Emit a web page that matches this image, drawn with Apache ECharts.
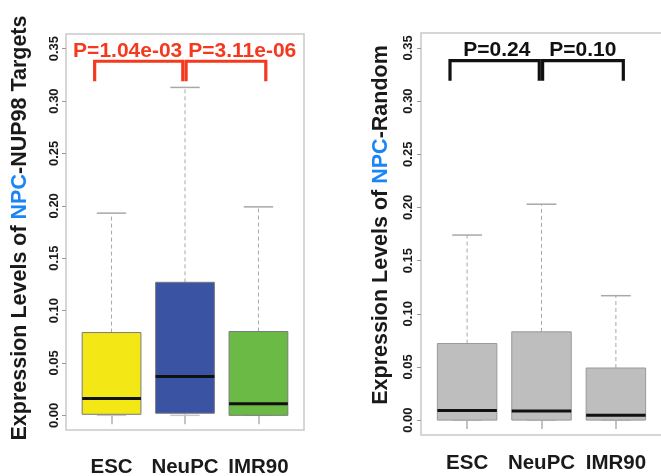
<!DOCTYPE html>
<html>
<head>
<meta charset="utf-8">
<script src="https://cdn.jsdelivr.net/npm/echarts@6/dist/echarts.min.js"></script>
<style>
  html, body { margin: 0; padding: 0; background: #fff; }
  #main { width: 661px; height: 476px; }
</style>
</head>
<body>
<div id="main"></div>
<script>
// categories and box statistics: [min, q1, median, q3, max]
var categories = ['ESC', 'NeuPC', 'IMR90'];
var targetsStats = [
    [0.000, 0.001, 0.016, 0.079, 0.193],
    [0.000, 0.002, 0.037, 0.127, 0.313],
    [0.000, 0.000, 0.011, 0.080, 0.199]
];
var randomStats = [
    [0.000, 0.000, 0.009, 0.072, 0.174],
    [0.000, 0.000, 0.0085, 0.083, 0.203],
    [0.000, 0.000, 0.0045, 0.049, 0.117]
];
var yTicks = [0, 0.05, 0.10, 0.15, 0.20, 0.25, 0.30, 0.35];
// comparisons (category positions) and their p-values
var comparisons = [[1, 2], [2, 3]];
var targetsP = ['P=1.04e-03', 'P=3.11e-06'];
var randomP = ['P=0.24', 'P=0.10'];

var targetColors = ['#f3e815', '#3a53a3', '#6bba45'];
var randomColor = '#bebebe';
var FONT = '"Liberation Sans", Arial, sans-serif';

var myChart = echarts.init(document.getElementById('main'));

function boxRender(colors, border) {
    return function (params, api) {
        var x = api.value(0);
        var lo = api.coord([x, api.value(1)]);
        var q1 = api.coord([x, api.value(2)]);
        var md = api.coord([x, api.value(3)]);
        var q3 = api.coord([x, api.value(4)]);
        var hi = api.coord([x, api.value(5)]);
        var w = api.size([0.8, 0])[0];
        var cx = lo[0];
        var gray = '#a8a8a8';
        return {
            type: 'group',
            children: [
                { type: 'line', shape: { x1: cx, y1: q3[1], x2: cx, y2: hi[1] },
                  style: { stroke: gray, lineWidth: 1, lineDash: [4, 3] } },
                { type: 'line', shape: { x1: cx, y1: lo[1], x2: cx, y2: q1[1] },
                  style: { stroke: gray, lineWidth: 1, lineDash: [4, 3] } },
                { type: 'line', shape: { x1: cx - w / 4, y1: hi[1], x2: cx + w / 4, y2: hi[1] },
                  style: { stroke: gray, lineWidth: 1.5 } },
                { type: 'line', shape: { x1: cx - w / 4, y1: lo[1], x2: cx + w / 4, y2: lo[1] },
                  style: { stroke: '#c8c8c8', lineWidth: 1.5 } },
                { type: 'rect', shape: { x: cx - w / 2, y: q3[1], width: w, height: Math.max(q1[1] - q3[1], 1) },
                  style: { fill: colors[params.dataIndex % colors.length], stroke: border, lineWidth: 1 } },
                { type: 'line', shape: { x1: cx - w / 2, y1: md[1], x2: cx + w / 2, y2: md[1] },
                  style: { stroke: '#111', lineWidth: 3 } }
            ]
        };
    };
}

function bracketRender(color) {
    return function (params, api) {
        var a = api.value(0), b = api.value(1);
        var first = params.dataIndex === 0;
        var x0 = first ? a - 0.23 : a + 0.015;
        var x1 = first ? b - 0.03 : b + 0.1;
        var p0 = api.coord([x0, 0.319]);
        var p1 = api.coord([x0, 0.338]);
        var p2 = api.coord([x1, 0.338]);
        var p3 = api.coord([x1, 0.319]);
        return {
            type: 'polyline',
            shape: { points: [p0, p1, p2, p3] },
            style: { stroke: color, lineWidth: 3.2, fill: null, lineJoin: 'miter' }
        };
    };
}

function labelRender(texts, xs, color) {
    return function (params, api) {
        var p = api.coord([xs[params.dataIndex], 0.348]);
        return {
            type: 'text',
            x: p[0], y: p[1],
            style: {
                text: texts[params.dataIndex], fill: color,
                font: 'bold 21px ' + FONT, align: 'center', verticalAlign: 'middle'
            }
        };
    };
}

function boxData(stats) {
    return stats.map(function (s, i) { return [i + 1].concat(s); });
}

function xAxisFor(idx, margin) {
    return {
        type: 'value', gridIndex: idx, min: 0.38, max: 3.62,
        axisLine: { show: false },
        splitLine: { show: false },
        axisTick: { show: true, length: 9, customValues: [1, 2, 3], lineStyle: { color: '#b0b0b0', width: 1.5 } },
        axisLabel: {
            customValues: [1, 2, 3], margin: margin,
            formatter: function (v) { return categories[Math.round(v) - 1] || ''; },
            fontFamily: FONT, fontWeight: 'bold', fontSize: 20.5, color: '#1a1a1a'
        }
    };
}

function yAxisFor(idx, name, gap, labelMargin, shift) {
    return {
        type: 'value', gridIndex: idx, min: -0.014, max: 0.364,
        name: name, nameLocation: 'middle', nameGap: gap, nameRotate: 90,
        nameTextStyle: {
            fontFamily: FONT, fontWeight: 'bold', fontSize: 21.5, color: '#1a1a1a',
            padding: [0, 0, 0, shift],
            rich: { npc: { fontFamily: FONT, fontWeight: 'bold', fontSize: 21.5, color: '#1b85f5' } }
        },
        axisLine: { show: false },
        splitLine: { show: false },
        axisTick: { show: true, length: 4, customValues: yTicks, lineStyle: { color: '#999', width: 1 } },
        axisLabel: {
            customValues: yTicks, rotate: 90, margin: labelMargin,
            formatter: function (v) { return v.toFixed(2); },
            fontFamily: FONT, fontWeight: 'bold', fontSize: 13, color: '#1a1a1a'
        }
    };
}

var option = {
    animation: false,
    grid: [
        { left: 66, top: 34, width: 238, height: 396, show: true, borderColor: '#c9c9c9', borderWidth: 1.5,
          outerBoundsMode: 'none', containLabel: false },
        { left: 421, top: 33, width: 241, height: 402, show: true, borderColor: '#c9c9c9', borderWidth: 1.5,
          outerBoundsMode: 'none', containLabel: false }
    ],
    xAxis: [xAxisFor(0, 27), xAxisFor(1, 18)],
    yAxis: [
        yAxisFor(0, 'Expression Levels of {npc|NPC}-NUP98 Targets', 35, 5, 8),
        yAxisFor(1, 'Expression Levels of {npc|NPC}-Random', 29, 6, 18)
    ],
    series: [
        { type: 'custom', xAxisIndex: 0, yAxisIndex: 0, renderItem: boxRender(targetColors, '#7a7a7a'),
          data: boxData(targetsStats) },
        { type: 'custom', xAxisIndex: 1, yAxisIndex: 1, renderItem: boxRender([randomColor], '#999'),
          data: boxData(randomStats) },
        { type: 'custom', xAxisIndex: 0, yAxisIndex: 0, renderItem: bracketRender('#f43a1e'),
          data: comparisons },
        { type: 'custom', xAxisIndex: 1, yAxisIndex: 1, renderItem: bracketRender('#111'),
          data: comparisons },
        { type: 'custom', xAxisIndex: 0, yAxisIndex: 0, renderItem: labelRender(targetsP, [1.22, 2.78], '#f43a1e'),
          data: comparisons },
        { type: 'custom', xAxisIndex: 1, yAxisIndex: 1, renderItem: labelRender(randomP, [1.40, 2.555], '#111'),
          data: comparisons }
    ]
};

myChart.setOption(option);
</script>
</body>
</html>
